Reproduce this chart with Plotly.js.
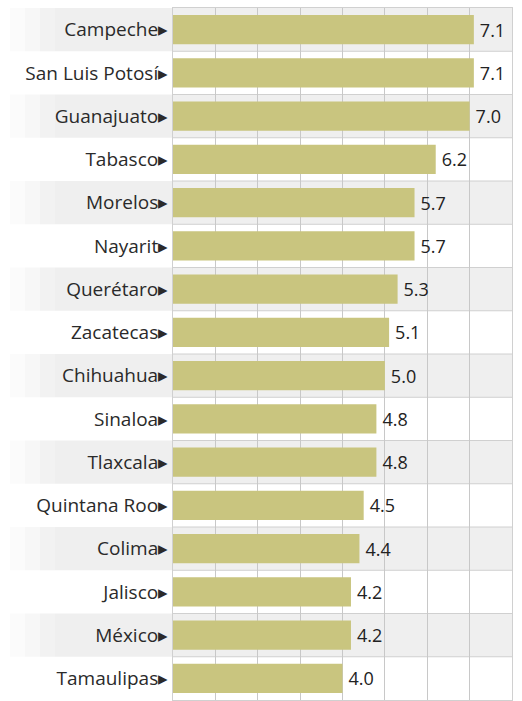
<!DOCTYPE html>
<html>
<head>
<meta charset="utf-8">
<script src="https://cdn.plot.ly/plotly-3.0.1.min.js"></script>
<style>html,body{margin:0;padding:0;background:#fff;}#chart{width:522px;height:701px;}</style>
</head>
<body>
<div id="chart"></div>
<script>
const states = ["Campeche","San Luis Potosí","Guanajuato","Tabasco","Morelos","Nayarit","Querétaro","Zacatecas","Chihuahua","Sinaloa","Tlaxcala","Quintana Roo","Colima","Jalisco","México","Tamaulipas"];
const values = [7.1,7.1,7.0,6.2,5.7,5.7,5.3,5.1,5.0,4.8,4.8,4.5,4.4,4.2,4.2,4.0];
const valueLabels = ["7.1","7.1","7.0","6.2","5.7","5.7","5.3","5.1","5.0","4.8","4.8","4.5","4.4","4.2","4.2","4.0"];

const plotLeft = 173, plotW = 339;
const px = p => (p - plotLeft) / plotW;
const shapes = [];
states.forEach((s, i) => {
  if (i % 2 === 0) {
    // soft fade at the left end of the band
    const steps = [[10, 0.25], [25, 0.5], [40, 0.8], [55, 1]];
    steps.forEach((st, k) => {
      const x0 = px(st[0]);
      const x1 = k < steps.length - 1 ? px(steps[k+1][0]) : 1;
      shapes.push({type:'rect', xref:'paper', yref:'y', x0:x0, x1:x1, y0:i-0.5, y1:i+0.5,
        fillcolor:'#efefef', opacity:st[1], line:{width:0}, layer:'below'});
    });
  }
  if (i > 0) {
    shapes.push({type:'line', xref:'paper', yref:'y', x0:0, x1:1, y0:i-0.5, y1:i-0.5,
      line:{color:'#d0d0d0', width:1}, layer:'below'});
  }
});

Plotly.newPlot('chart', [{
  type:'bar', orientation:'h',
  y: states, x: values,
  text: valueLabels.map(v => '\u2009' + v), textposition:'outside', cliponaxis:false,
  textfont:{family:'Open Sans', size:18, color:'#222'},
  marker:{color:'#c9c57f'}, width:0.68,
  hoverinfo:'none'
}], {
  width:522, height:701,
  margin:{l:173, r:10, t:8, b:1},
  paper_bgcolor:'rgba(0,0,0,0)', plot_bgcolor:'rgba(0,0,0,0)',
  showlegend:false,
  xaxis:{range:[0,8], dtick:1, showgrid:true, gridcolor:'#c8c8c8', gridwidth:1,
    zeroline:false, showticklabels:false, ticks:'', showline:true, mirror:true, linecolor:'#d0d0d0', fixedrange:true},
  yaxis:{autorange:'reversed', tickvals:states, ticktext:states.map(s => s + '▸'),
    tickfont:{family:'Open Sans', size:19, color:'#2a2a2a'}, ticks:'', showgrid:false,
    showline:true, mirror:true, linecolor:'#d0d0d0', fixedrange:true},
  shapes: shapes
}, {displayModeBar:false, staticPlot:true});
</script>
</body>
</html>
